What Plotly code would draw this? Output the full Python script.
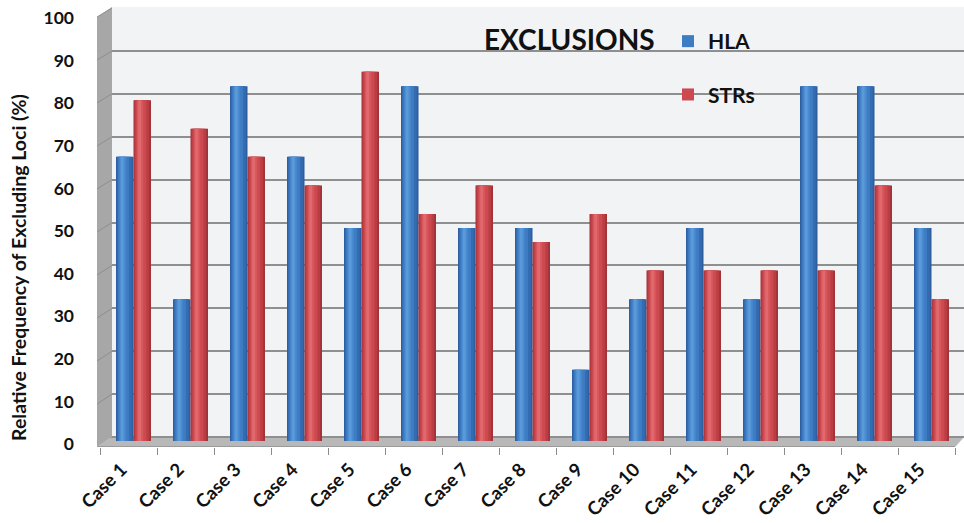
import plotly.graph_objects as go

# ---- data -------------------------------------------------------------
CASES = ["Case 1", "Case 2", "Case 3", "Case 4", "Case 5", "Case 6", "Case 7", "Case 8",
         "Case 9", "Case 10", "Case 11", "Case 12", "Case 13", "Case 14", "Case 15"]
HLA = [66.7, 33.3, 83.3, 66.7, 50.0, 83.3, 50.0, 50.0, 16.7, 33.3, 50.0, 33.3, 83.3, 83.3, 50.0]
STRS = [80.0, 73.3, 66.7, 60.0, 86.7, 53.3, 60.0, 46.7, 53.3, 40.0, 40.0, 40.0, 40.0, 60.0, 33.3]
Y_TICKS = [0, 10, 20, 30, 40, 50, 60, 70, 80, 90, 100]

# ---- canvas geometry (pixels) -----------------------------------------
W, H = 964, 523
L, R, T, B = 97, 0, 7, 76
PLOT_W, PLOT_H = W - L - R, H - T - B
PLOT_BOTTOM = T + PLOT_H
DEPTH_X, DEPTH_Y = 15, 10          # pseudo-3D depth of the walls
CAT_PX = 57                        # width of one category on the front plane
FIRST_TICK_PX = 100                # left boundary of "Case 1" on the front plane

FONT = "Lato"
TXT = "#111111"


def xp(px):
    return (px - L) / PLOT_W


def yp(py):
    return (PLOT_BOTTOM - py) / PLOT_H


def y_range(zero_px, px_per_unit):
    r0 = -(PLOT_BOTTOM - zero_px) / px_per_unit
    return [r0, r0 + PLOT_H / px_per_unit]


# category axis range: boundaries on the front plane
x0 = -0.5 - (FIRST_TICK_PX - L) / CAT_PX
x_range = [x0, x0 + PLOT_W / CAT_PX]

# cylinders stand halfway back on the floor
BAR_W = 0.307
SHIFT = 5 / CAT_PX

BLUE_LAYERS = [(0.00, 1.00, "#2d5e9f"), (0.05, 0.90, "#346cb2"), (0.12, 0.74, "#3e7cc3"),
               (0.20, 0.56, "#4a8ad0"), (0.27, 0.44, "#5b9ad9")]
RED_LAYERS = [(0.00, 1.00, "#a03238"), (0.05, 0.90, "#ba3d43"), (0.12, 0.74, "#cb494f"),
              (0.20, 0.56, "#d7565b"), (0.27, 0.44, "#e0696e")]

fig = go.Figure()


def add_cylinders(name, values, base_offset, layers):
    for i, (a, b, color) in enumerate(layers):
        fig.add_trace(go.Bar(
            x=CASES, y=values, name=name,
            offset=base_offset + a * BAR_W, width=(b - a) * BAR_W,
            marker=dict(color=color, line=dict(width=0)),
            legendgroup=name, showlegend=(i == 2),
            hovertemplate=name + " %{x}: %{y}<extra></extra>" if i == 0 else None,
            hoverinfo=None if i == 0 else "skip",
        ))


add_cylinders("HLA", HLA, -BAR_W + SHIFT, BLUE_LAYERS)
add_cylinders("STRs", STRS, SHIFT, RED_LAYERS)

# empty carriers so the value-label axis and the back-wall grid axis get drawn
for axis_id in ("y2", "y3"):
    fig.add_trace(go.Scatter(x=CASES, y=[0] * len(CASES), yaxis=axis_id, mode="none",
                             showlegend=False, hoverinfo="skip"))

# ---- walls --------------------------------------------------------------
WALL = "#a7a7a7"
FLOOR = "#b8b8b8"
shapes = []


def poly(points, fill, layer, line=None):
    path = "M " + " L ".join(f"{xp(x):.5f},{yp(y):.5f}" for x, y in points) + " Z"
    shapes.append(dict(type="path", path=path, xref="paper", yref="paper",
                       fillcolor=fill, line=line or dict(width=0), layer=layer))


front_x, back_x = L, L + DEPTH_X
floor_back = PLOT_BOTTOM - DEPTH_Y
front_right = FIRST_TICK_PX + CAT_PX * len(CASES)

# floor
poly([(front_x, PLOT_BOTTOM), (back_x, floor_back), (W, floor_back), (front_right, PLOT_BOTTOM)],
     FLOOR, "between")
shapes.append(dict(type="line", xref="paper", yref="paper",
                   x0=xp(front_x), y0=yp(PLOT_BOTTOM - 0.5), x1=xp(front_right), y1=yp(PLOT_BOTTOM - 0.5),
                   line=dict(color="#9a9a9a", width=1), layer="between"))
# left side wall
poly([(front_x, T + DEPTH_Y), (back_x, T), (back_x, floor_back), (front_x, PLOT_BOTTOM)],
     WALL, "above")
# blank corners outside the box
poly([(front_x, T - 1), (back_x + 1, T - 1), (front_x, T + DEPTH_Y)], "white", "above")
poly([(front_right, PLOT_BOTTOM + 1), (W + 1, PLOT_BOTTOM + 1), (W + 1, floor_back)], "white", "above")

# slanted grid marks on the side wall
GRID_K = (floor_back - (T + 1)) / 100
FRONT_K = (PLOT_BOTTOM - (T + DEPTH_Y)) / 100
for v in Y_TICKS[1:]:
    shapes.append(dict(type="line", xref="paper", yref="paper",
                       x0=xp(front_x), y0=yp(PLOT_BOTTOM - FRONT_K * v),
                       x1=xp(back_x), y1=yp(floor_back - GRID_K * v),
                       line=dict(color="#8e8e8e", width=1), layer="above"))

grid_r0 = -(PLOT_BOTTOM - floor_back) / GRID_K

fig.update_layout(
    width=W, height=H,
    margin=dict(l=L, r=R, t=T, b=B, autoexpand=False),
    paper_bgcolor="white",
    plot_bgcolor="#f1f3f5",
    barmode="overlay",
    shapes=shapes,
    font=dict(family=FONT, color=TXT),
    xaxis=dict(
        type="category", categoryorder="array", categoryarray=CASES,
        range=x_range, tickson="boundaries", ticks="outside", ticklen=7,
        tickcolor="#8c8c8c", tickwidth=1, tickangle=-45,
        ticklabelstandoff=7, ticklabelshift=-7,
        tickfont=dict(family=FONT, size=18.5, color=TXT, weight="bold"),
        showgrid=False, showline=False, zeroline=False, fixedrange=True,
    ),
    # scale of the cylinders
    yaxis=dict(range=y_range(441, 4.26), showgrid=False, showticklabels=False,
               showline=False, zeroline=False, ticks="", fixedrange=True),
    # front-plane value labels
    yaxis2=dict(range=y_range(444, 4.26), overlaying="y", side="left", anchor="x",
                tickvals=Y_TICKS, ticks="", ticklabelstandoff=22,
                tickfont=dict(family=FONT, size=17.5, color=TXT, weight="bold"),
                showgrid=False, showline=False, zeroline=False, fixedrange=True),
    # back-wall gridlines
    yaxis3=dict(range=[grid_r0, grid_r0 + PLOT_H / GRID_K],
                overlaying="y", anchor="x", tickvals=Y_TICKS, showticklabels=False,
                showgrid=True, gridcolor="#8f8f8f", gridwidth=2, ticks="",
                showline=False, zeroline=False, fixedrange=True),
    legend=dict(
        x=xp(668), y=yp(21), xanchor="left", yanchor="top",
        bgcolor="rgba(0,0,0,0)", borderwidth=0, traceorder="grouped",
        tracegroupgap=23, font=dict(family=FONT, size=21, color=TXT, weight="bold"),
    ),
    annotations=[
        dict(text="EXCLUSIONS", xref="paper", yref="paper", x=xp(569), y=yp(39),
             xanchor="center", yanchor="middle", showarrow=False,
             font=dict(family=FONT, size=28, color=TXT, weight="bold")),
        # value-axis title, centred on the lower part of the wall
        dict(text="Relative Frequency of Excluding Loci (%)", xref="paper", yref="paper",
             x=xp(18), y=yp(268), xanchor="center", yanchor="middle", textangle=-90,
             showarrow=False, font=dict(family=FONT, size=19.5, color=TXT, weight="bold")),
    ],
    showlegend=True,
)

fig.write_html("out.html")
